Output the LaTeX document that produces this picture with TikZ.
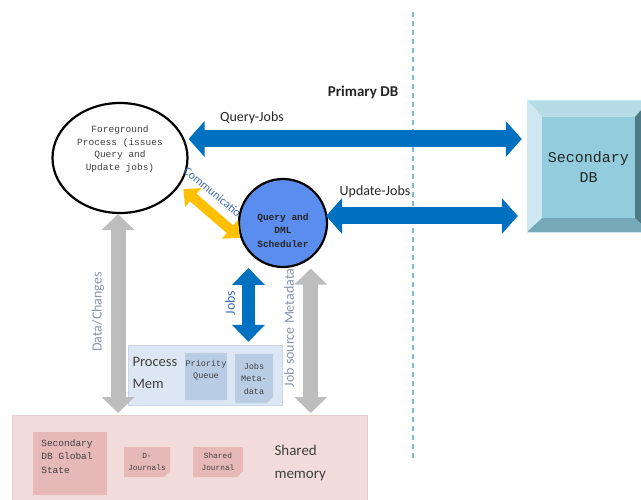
\documentclass[tikz,border=0pt]{standalone}
\usepackage{fontspec}
\setmainfont{Carlito}
\setmonofont{Liberation Mono}
\usetikzlibrary{arrows.meta,shapes.geometric,shapes.misc}

\definecolor{qblue}{HTML}{0070C0}
\definecolor{schedblue}{HTML}{5B8DEF}
\definecolor{commyellow}{HTML}{FFC000}
\definecolor{arrowgrey}{HTML}{BDBDBD}
\definecolor{dashblue}{HTML}{7BBCD9}
\definecolor{pmfill}{HTML}{DDE7F3}
\definecolor{pmline}{HTML}{C9D7E8}
\definecolor{pmbox}{HTML}{B8CCE4}
\definecolor{shmfill}{HTML}{F2DCDB}
\definecolor{shmline}{HTML}{E8CDCC}
\definecolor{shmbox}{HTML}{E6B9B8}
\definecolor{labelgrey}{HTML}{8496B0}
\definecolor{labelblue}{HTML}{3F6FB5}
\definecolor{textgrey}{HTML}{404040}
\definecolor{dbtop}{HTML}{B5DCE7}
\definecolor{dbleft}{HTML}{CDE8F0}
\definecolor{dbface}{HTML}{93CDDD}
\definecolor{dbbottom}{HTML}{76AAB9}
\definecolor{dbright}{HTML}{4E7A86}

\tikzset{
  qarrow/.style={draw=qblue, line width=17pt, {Triangle[width=35pt,length=16pt]}-{Triangle[width=35pt,length=16pt]}},
  jobsarrow/.style={draw=qblue, line width=13pt, {Triangle[width=32pt,length=17pt]}-{Triangle[width=32pt,length=17pt]}},
  greyarrow/.style={draw=arrowgrey, line width=15pt, {Triangle[width=32pt,length=16pt]}-{Triangle[width=32pt,length=16pt]}},
  commarrow/.style={draw=commyellow, line width=10pt, {Triangle[width=24pt,length=13pt]}-{Triangle[width=24pt,length=13pt]}},
  notebox/.style={chamfered rectangle, chamfered rectangle corners=south east, chamfered rectangle xsep=3pt, chamfered rectangle ysep=3pt, inner sep=0pt},
  lbl/.style={font=\fontsize{14}{14}\selectfont},
}

\begin{document}
\begin{tikzpicture}[x=1pt,y=-1pt]
\useasboundingbox (0,0) rectangle (641,500);
\fill[white] (0,0) rectangle (641,500);

\draw[dashblue, line width=1.5pt, dash pattern=on 5pt off 4pt] (413,12) -- (413,460);

% secondary db block
\fill[dbtop] (527,100) -- (650,100) -- (635,117) -- (542,117) -- cycle;
\fill[dbleft] (527,100) -- (542,117) -- (542,218) -- (527,232) -- cycle;
\fill[dbbottom] (527,232) -- (542,218) -- (635,218) -- (650,232) -- cycle;
\fill[dbright] (650,100) -- (635,117) -- (635,218) -- (650,232) -- cycle;
\node[fill=dbface, minimum width=93, minimum height=101, align=center, text=black!85,
  font=\fontsize{15}{20}\selectfont\ttfamily] (sdbface) at (588.5,167.5) {Secondary\\DB};
\node[draw=dbleft, line width=0.4pt, minimum width=123, minimum height=132] (sdb) at (588.5,166) {};

% memories
\node[fill=pmfill, draw=pmline, minimum width=154, minimum height=60] (pm) at (205,375) {};
\node[anchor=west, align=left, text=textgrey, font=\fontsize{14.5}{22}\selectfont] (pmtext) at (129,373) {Process\\Mem};
\node[notebox, fill=pmbox, minimum width=42, minimum height=47] (pq) at (206,376.5) {};
\node[anchor=north, align=center, text=textgrey, font=\fontsize{8.5}{12}\selectfont\ttfamily] (pqtext) at ([yshift=-4pt]pq.north) {Priority\\Queue};
\node[notebox, fill=pmbox, minimum width=38, minimum height=49, align=center, text=textgrey,
  font=\fontsize{8.5}{12.5}\selectfont\ttfamily] (jm) at (254,378.5) {Jobs\\Meta-\\data};

\node[fill=shmfill, draw=shmline, minimum width=355, minimum height=90, anchor=north west] (shm) at (12,415) {};
\node[notebox, fill=shmbox, minimum width=74, minimum height=63] (gstate) at (70,463.5) {};
\node[anchor=north west, align=left, text=textgrey, font=\fontsize{9.5}{13.5}\selectfont\ttfamily] (gstatetext) at ([xshift=5pt,yshift=-4pt]gstate.north west) {Secondary\\DB Global\\State};
\node[notebox, fill=shmbox, minimum width=46, minimum height=30, align=center, text=textgrey,
  font=\fontsize{7.8}{12}\selectfont\ttfamily] (dj) at (147,462) {D-\\Journals};
\node[notebox, fill=shmbox, minimum width=50, minimum height=30, align=center, text=textgrey,
  font=\fontsize{7.8}{12}\selectfont\ttfamily] (sj) at (218,462) {Shared\\Journal};
\node[anchor=west, align=left, text=textgrey, font=\fontsize{15}{23}\selectfont] (shmtext) at (271,463) {Shared\\memory};

% processes
\node[ellipse, draw, line width=2.2pt, fill=white, minimum width=135, minimum height=110] (fg) at (120,158) {};
\node[align=center, text=textgrey, font=\fontsize{9.5}{12.8}\selectfont\ttfamily] (fgtext) at (120,149) {Foreground\\Process (issues\\Query and\\Update jobs)};
\node[rotate=-40, text=labelblue, font=\fontsize{12}{12}\selectfont] (commlabel) at (215,194) {Communication};
\node[circle, draw, line width=2.2pt, fill=schedblue, minimum size=88] (sched) at (283,223) {};
\node[align=center, text=black!85, font=\fontsize{9.5}{13.5}\selectfont\ttfamily\bfseries] (schedtext) at (283,230.5) {Query and\\DML\\Scheduler};

% connectors
\draw[qarrow] ([yshift=19pt]fg.east) -- ([yshift=27pt,xshift=-5pt]sdb.west);
\draw[qarrow] ([xshift=-2pt,yshift=7pt]sched.east) -- ([yshift=-50pt,xshift=-9pt]sdb.west);
\draw[commarrow, shorten <=5pt, shorten >=1pt] (fg.-25) -- (sched.200);
\draw[greyarrow, shorten >=2pt] (fg.-92) -- (fg.-92 |- shm.north);
\draw[jobsarrow, shorten <=16pt, shorten >=3pt] (sched.-140) -- (sched.-140 |- pm.north);
\draw[greyarrow, shorten <=10pt, shorten >=2pt] (sched.-52) -- (sched.-52 |- shm.north);

% labels
\node[font=\fontsize{15}{15}\selectfont\bfseries, text=black!85] (primary) at (363,92) {Primary DB};
\node[lbl, text=black!85] (qjlabel) at (252,118) {Query-Jobs};
\node[lbl, text=black!85] (ujlabel) at (375,192) {Update-Jobs};
\node[lbl, rotate=90, text=labelgrey] (dclabel) at (98,312) {Data/Changes};
\node[lbl, rotate=90, text=labelblue] (jobslabel) at (230,303) {Jobs};
\node[lbl, rotate=90, text=labelgrey] (jsmlabel) at (289,328) {Job source Metadata};

\end{tikzpicture}
\end{document}
